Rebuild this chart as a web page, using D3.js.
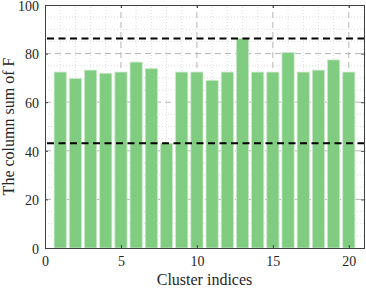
<!DOCTYPE html>
<html><head><meta charset="utf-8">
<script src="https://cdn.jsdelivr.net/npm/d3@7/dist/d3.min.js"></script>
<style>
html,body{margin:0;padding:0;background:#fff;}
svg{display:block;}
text{font-family:"Liberation Serif","Times New Roman",serif;fill:#262626;}
</style></head>
<body><svg id="c" width="366" height="288"></svg>
<script>
const clusters = d3.range(1, 21);
const colSums = [72.4, 69.7, 73.2, 71.9, 72.4, 76.5, 73.8, 43.1, 72.4, 72.4,
                 69.0, 72.4, 86.2, 72.4, 72.4, 80.5, 72.4, 73.2, 77.4, 72.4];
const refLines = [86.2, 43.1];
const xTicks = [0, 5, 10, 15, 20];
const yTicks = [0, 20, 40, 60, 80, 100];
const xMinor = d3.range(0, 22, 1);
const yMinor = d3.range(0, 101, 5);
const xLabel = "Cluster indices";
const yLabel = "The column sum of F";

const W = 366, H = 288;
const m = {l: 45, t: 5, r: 2, b: 40};
const svg = d3.select("#c");
const x = d3.scaleLinear().domain([0, 21]).range([m.l, W - m.r]);
const y = d3.scaleLinear().domain([0, 100]).range([H - m.b, m.t]);

const g = svg.append("g");
// minor grid
g.selectAll(".mx").data(xMinor.filter(v => v % 5 !== 0)).enter().append("line")
  .attr("x1", d => x(d)).attr("x2", d => x(d)).attr("y1", y(0)).attr("y2", y(100))
  .attr("stroke", "#d4d4d4").attr("stroke-width", 0.8).attr("stroke-dasharray", "1,2");
g.selectAll(".my").data(yMinor.filter(v => v % 20 !== 0)).enter().append("line")
  .attr("y1", d => y(d)).attr("y2", d => y(d)).attr("x1", x(0)).attr("x2", x(21))
  .attr("stroke", "#d4d4d4").attr("stroke-width", 0.8).attr("stroke-dasharray", "1,2");
// major grid
g.selectAll(".gx").data(xTicks.filter(v => v > 0)).enter().append("line")
  .attr("x1", d => x(d)).attr("x2", d => x(d)).attr("y1", y(0)).attr("y2", y(100))
  .attr("stroke", "#b5b5b5").attr("stroke-width", 1).attr("stroke-dasharray", "6,4");
g.selectAll(".gy").data(yTicks.filter(v => v > 0 && v < 100)).enter().append("line")
  .attr("y1", d => y(d)).attr("y2", d => y(d)).attr("x1", x(0)).attr("x2", x(21))
  .attr("stroke", "#b5b5b5").attr("stroke-width", 1).attr("stroke-dasharray", "6,4");

// bars
const bw = (x(1) - x(0)) * 0.8;
svg.append("g").selectAll("rect").data(clusters).enter().append("rect")
  .attr("x", (d) => x(d) - bw / 2)
  .attr("y", (d, i) => y(colSums[i]))
  .attr("width", bw)
  .attr("height", (d, i) => y(0) - y(colSums[i]))
  .attr("fill", "#80cc80").attr("stroke", "#c8e8c8").attr("stroke-width", 0.8);

// reference lines
svg.append("g").selectAll("line").data(refLines).enter().append("line")
  .attr("x1", x(0) + 2).attr("x2", x(21)).attr("y1", d => y(d)).attr("y2", d => y(d))
  .attr("stroke", "#000").attr("stroke-width", 2).attr("stroke-dasharray", "7,4.5");

// axes
const ax = svg.append("g");
const xb = d3.axisBottom(x).tickValues(xTicks).tickSize(-3).tickPadding(8).tickFormat(d3.format("d"));
const xt = d3.axisTop(x).tickValues(xTicks).tickSize(-3).tickFormat("");
const yl = d3.axisLeft(y).tickValues(yTicks).tickSize(-3).tickPadding(6).tickFormat(d3.format("d"));
const yr = d3.axisRight(y).tickValues(yTicks).tickSize(-3).tickFormat("");
function style(sel) {
  sel.select(".domain").attr("stroke", "#404040").attr("stroke-width", 1);
  sel.selectAll(".tick line").attr("stroke", "#404040");
  sel.selectAll("text").attr("font-size", 14).attr("font-family", "Liberation Serif").attr("fill", "#262626");
}
ax.append("g").attr("transform", `translate(0,${y(0)})`).call(xb).call(style);
ax.append("g").attr("transform", `translate(0,${y(100)})`).call(xt).call(style);
const yAxG = ax.append("g").attr("transform", `translate(${x(0)},0)`).call(yl).call(style);
yAxG.selectAll("text").attr("dy", "0.38em");
ax.append("g").attr("transform", `translate(${x(21)},0)`).call(yr).call(style);

svg.append("text").attr("x", (x(0) + x(21)) / 2).attr("y", 285)
  .attr("text-anchor", "middle").attr("font-size", 16).text(xLabel);
svg.append("text").attr("transform", `translate(14,${(y(0) + y(100)) / 2}) rotate(-90)`)
  .attr("text-anchor", "middle").attr("font-size", 16).text(yLabel);
</script></body></html>
